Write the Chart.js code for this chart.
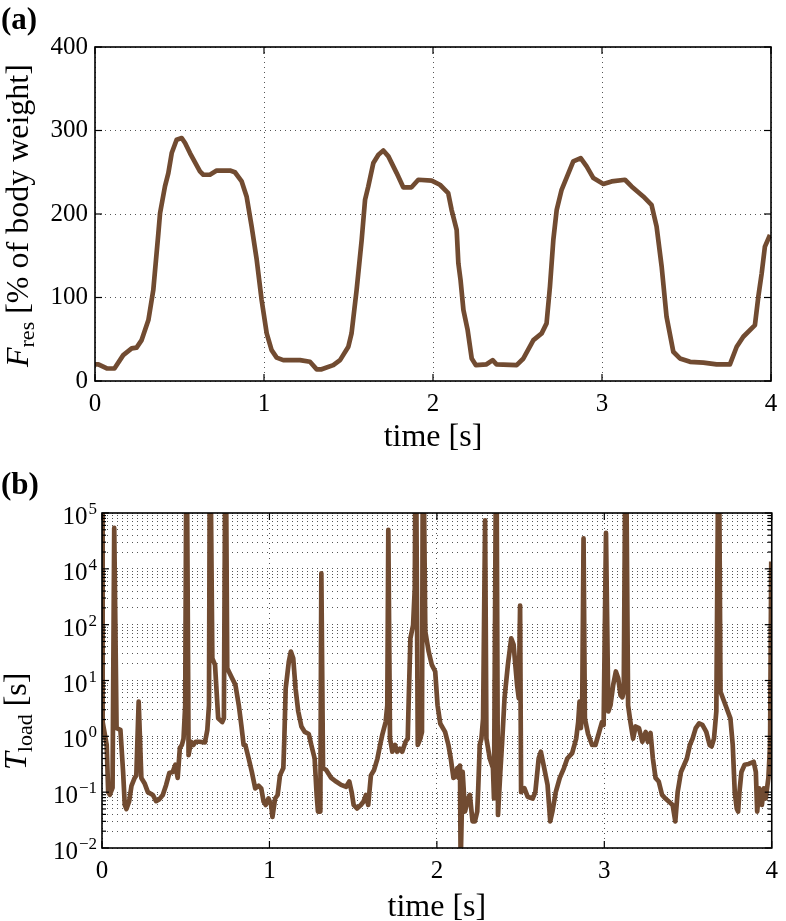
<!DOCTYPE html>
<html>
<head>
<meta charset="utf-8">
<script src="https://cdn.jsdelivr.net/npm/chart.js@4.4.1/dist/chart.umd.min.js"></script>
<style>
  body { margin: 0; background: #fff; }
  .box { position: absolute; left: 0; width: 786px; }
  #boxA { top: 0; height: 460px; }
  #boxB { top: 460px; height: 461px; }
</style>
</head>
<body>
<div class="box" id="boxA"><canvas id="chartA" width="786" height="460"></canvas></div>
<div class="box" id="boxB"><canvas id="chartB" width="786" height="461"></canvas></div>
<script>
// (a) resultant force, % of body weight
const timeA = [
  0, 0.02, 0.07, 0.115, 0.167, 0.217, 0.246, 0.276, 0.316, 0.345,
  0.375, 0.385, 0.414, 0.434, 0.454, 0.483, 0.513, 0.533, 0.562, 0.621,
  0.641, 0.68, 0.72, 0.799, 0.828, 0.868, 0.897, 0.927, 0.957, 0.986,
  1.016, 1.045, 1.075, 1.114, 1.213, 1.272, 1.312, 1.341, 1.41, 1.45,
  1.499, 1.518, 1.548, 1.578, 1.598, 1.617, 1.647, 1.677, 1.706, 1.736,
  1.785, 1.824, 1.873, 1.913, 1.992, 2.041, 2.09, 2.11, 2.14, 2.15,
  2.163, 2.18, 2.205, 2.229, 2.254, 2.317, 2.353, 2.376, 2.495, 2.535,
  2.594, 2.643, 2.672, 2.692, 2.712, 2.732, 2.761, 2.83, 2.874, 2.909,
  2.949, 3.008, 3.057, 3.136, 3.175, 3.244, 3.293, 3.323, 3.353, 3.382,
  3.422, 3.461, 3.521, 3.6, 3.678, 3.757, 3.797, 3.836, 3.905, 3.925,
  3.945, 3.964, 3.994
];
const forceA = [
  20, 20, 15, 15, 31, 39, 40, 49, 73, 109,
  177, 201, 233, 249, 273, 289, 291, 285, 273, 251,
  247, 247, 252, 252, 250, 239, 221, 185, 145, 97,
  57, 37, 28, 25, 25, 23, 14, 14, 19, 25,
  41, 57, 109, 169, 217, 233, 261, 271, 276, 269,
  249, 232, 232, 241, 240, 235, 225, 205, 181, 141,
  121, 85, 61, 27, 19, 20, 25, 20, 19, 27,
  49, 57, 69, 113, 169, 205, 229, 263, 267, 257,
  243, 236, 239, 241, 233, 221, 211, 185, 137, 77,
  35, 27, 23, 22, 20, 20, 41, 53, 67, 101,
  129, 161, 175
];
const xTicks = [0, 1, 2, 3, 4];
const yTicksA = [0, 100, 200, 300, 400];

// (b) T_load, log axis (values above 1e4 run off the top)
const timeB = [
  0, 0.004, 0.028, 0.037, 0.047, 0.063, 0.073, 0.087, 0.110, 0.126,
  0.136, 0.146, 0.162, 0.176, 0.195, 0.205, 0.219, 0.235, 0.254, 0.274,
  0.304, 0.323, 0.343, 0.363, 0.383, 0.402, 0.422, 0.438, 0.452, 0.465,
  0.477, 0.487, 0.497, 0.505, 0.517, 0.531, 0.546, 0.560, 0.580, 0.615,
  0.629, 0.639, 0.645, 0.659, 0.675, 0.694, 0.718, 0.728, 0.738, 0.748,
  0.777, 0.797, 0.817, 0.832, 0.846, 0.856, 0.876, 0.895, 0.915, 0.935,
  0.951, 0.965, 0.978, 0.994, 1.010, 1.018, 1.034, 1.049, 1.063, 1.083,
  1.089, 1.097, 1.116, 1.128, 1.142, 1.156, 1.172, 1.191, 1.211, 1.235,
  1.250, 1.270, 1.282, 1.290, 1.304, 1.310, 1.320, 1.339, 1.369, 1.398,
  1.428, 1.458, 1.477, 1.491, 1.503, 1.523, 1.546, 1.562, 1.576, 1.590,
  1.606, 1.625, 1.645, 1.661, 1.675, 1.694, 1.704, 1.710, 1.720, 1.734,
  1.750, 1.763, 1.779, 1.793, 1.813, 1.826, 1.832, 1.842, 1.858, 1.868,
  1.874, 1.886, 1.901, 1.911, 1.917, 1.931, 1.951, 1.970, 1.990, 2.004,
  2.020, 2.049, 2.069, 2.083, 2.099, 2.108, 2.122, 2.130, 2.138, 2.142,
  2.154, 2.168, 2.187, 2.197, 2.213, 2.227, 2.241, 2.247, 2.256, 2.266,
  2.276, 2.288, 2.296, 2.316, 2.335, 2.341, 2.355, 2.365, 2.379, 2.391,
  2.404, 2.424, 2.444, 2.458, 2.479, 2.489, 2.497, 2.503, 2.523, 2.542,
  2.572, 2.588, 2.608, 2.621, 2.641, 2.661, 2.677, 2.690, 2.710, 2.734,
  2.759, 2.779, 2.808, 2.832, 2.844, 2.852, 2.860, 2.868, 2.876, 2.884,
  2.903, 2.927, 2.947, 2.966, 2.986, 2.996, 3.010, 3.024, 3.037, 3.053,
  3.069, 3.083, 3.097, 3.108, 3.116, 3.128, 3.142, 3.156, 3.172, 3.187,
  3.207, 3.227, 3.247, 3.260, 3.276, 3.290, 3.306, 3.325, 3.345, 3.365,
  3.385, 3.408, 3.424, 3.438, 3.458, 3.477, 3.493, 3.511, 3.527, 3.546,
  3.566, 3.586, 3.609, 3.629, 3.641, 3.655, 3.669, 3.683, 3.694, 3.724,
  3.753, 3.767, 3.779, 3.791, 3.799, 3.807, 3.819, 3.838, 3.862, 3.892,
  3.905, 3.913, 3.925, 3.941, 3.953, 3.964, 3.980, 3.990, 3.997
];
const tLoad = [
  1e6, 1.8, 0.7, 0.1, 0.09, 0.12, 5400, 1.4, 1.3, 0.23,
  0.059, 0.05, 0.068, 0.13, 0.18, 0.2, 4.2, 0.18, 0.145, 0.10,
  0.089, 0.069, 0.075, 0.089, 0.135, 0.22, 0.23, 0.31, 0.18, 0.62,
  0.7, 0.91, 3.6, 1e6, 0.46, 0.8, 0.7, 0.8, 0.8, 0.78,
  1.3, 3.6, 1e6, 25, 19, 2.1, 1.8, 2.1, 1e6, 16.6,
  11, 8.3, 3.6, 1.6, 0.7, 0.7, 0.4, 0.23, 0.117, 0.13,
  0.117, 0.068, 0.059, 0.077, 0.059, 0.036, 0.077, 0.089, 0.2, 0.27,
  0.91, 7.2, 22, 33, 25, 7.2, 2.8, 1.5, 1.2, 1.1,
  0.7, 0.4, 0.089, 0.045, 0.045, 830, 0.27, 0.25, 0.18, 0.155,
  0.135, 0.125, 0.155, 0.1, 0.059, 0.051, 0.059, 0.068, 0.089, 0.059,
  0.2, 0.25, 0.4, 0.7, 1.1, 1.8, 3.6, 5000, 0.91, 0.53,
  0.7, 0.53, 0.6, 0.53, 0.8, 0.91, 4.8, 57, 98, 450,
  1e6, 0.7, 0.91, 1.2, 1e6, 75, 33, 19, 14.5, 3.6,
  1.7, 1.2, 0.7, 0.4, 0.18, 0.19, 0.27, 0.18, 0.3, 0.005,
  0.23, 0.045, 0.077, 0.089, 0.03, 0.03, 0.045, 0.117, 0.7, 0.91,
  2.1, 7400, 0.91, 0.4, 0.27, 0.077, 1e6, 0.039, 0.23, 0.91,
  4.8, 19, 57, 44, 8.3, 4.8, 220, 0.1, 0.117, 0.083,
  0.077, 0.1, 0.4, 0.53, 0.27, 0.135, 0.03, 0.045, 0.1, 0.18,
  0.27, 0.4, 0.5, 0.91, 1.8, 4.2, 1.4, 3.6, 3500, 2.1,
  1.1, 0.7, 0.7, 1.1, 1.8, 1.6, 4400, 2.8, 3.6, 8.3,
  14.5, 11, 5.4, 5.0, 6.3, 1e6, 3.6, 1.8, 0.91, 1.5,
  1.4, 0.8, 1.2, 0.8, 1.15, 0.4, 0.18, 0.155, 0.089, 0.077,
  0.068, 0.059, 0.03, 0.1, 0.23, 0.31, 0.4, 0.7, 0.91, 1.4,
  1.7, 1.6, 1.2, 0.7, 0.66, 0.91, 2.8, 1e6, 6.3, 3.6,
  2.1, 0.7, 0.1, 0.051, 0.045, 0.1, 0.23, 0.31, 0.32, 0.35,
  0.23, 0.045, 0.117, 0.059, 0.117, 0.077, 0.18, 0.7, 1350
];
// the printed decade labels of panel (b), bottom to top
const yTicksB = [0.01, 0.1, 1, 10, 100, 1000, 10000];
const yExpB = ['\u22122', '\u22121', '0', '1', '2', '4', '5'];

const lineColor = '#714b31';
const gridColor = '#555';
const serif = '"Liberation Serif", "Times New Roman", serif';

function pts(xs, ys) {
  const out = [];
  for (let i = 0; i < Math.min(xs.length, ys.length); i++) out.push({x: xs[i], y: ys[i]});
  return out;
}

function seg(ctx, x1, y1, x2, y2) {
  ctx.beginPath();
  ctx.moveTo(x1, y1);
  ctx.lineTo(x2, y2);
  ctx.stroke();
}

// draws a rotated axis title: main letter italic, subscript, rest roman
function yTitle(ctx, x, y, big, sub, rest, size) {
  ctx.save();
  ctx.translate(x, y);
  ctx.rotate(-Math.PI / 2);
  ctx.fillStyle = '#000';
  ctx.textAlign = 'left';
  ctx.textBaseline = 'alphabetic';
  ctx.font = 'italic ' + size + 'px ' + serif;
  ctx.fillText(big, 0, 0);
  let w = ctx.measureText(big).width;
  ctx.font = Math.round(size * 0.68) + 'px ' + serif;
  ctx.fillText(sub, w, size * 0.18);
  w += ctx.measureText(sub).width;
  ctx.font = size + 'px ' + serif;
  ctx.fillText(rest, w, 0);
  ctx.restore();
}

const frameA = {
  id: 'frameA',
  afterDraw(chart) {
    const {ctx, chartArea: a, scales} = chart;
    ctx.save();
    ctx.strokeStyle = '#000';
    ctx.lineWidth = 1.2;
    xTicks.forEach(v => {
      const x = scales.x.getPixelForValue(v);
      seg(ctx, x, a.bottom, x, a.bottom - 7);
      seg(ctx, x, a.top, x, a.top + 7);
    });
    yTicksA.forEach(v => {
      const y = scales.y.getPixelForValue(v);
      seg(ctx, a.left, y, a.left + 7, y);
      seg(ctx, a.right, y, a.right - 7, y);
    });
    ctx.lineWidth = 1.6;
    ctx.strokeRect(a.left, a.top, a.right - a.left, a.bottom - a.top);
    ctx.fillStyle = '#000';
    ctx.font = 'bold 31px ' + serif;
    ctx.fillText('(a)', 1, 29);
    ctx.restore();
    yTitle(ctx, 28, 367, 'F', 'res', ' [% of body weight]', 32);
  }
};

const frameB = {
  id: 'frameB',
  afterDraw(chart) {
    const {ctx, chartArea: a, scales} = chart;
    ctx.save();
    ctx.strokeStyle = '#000';
    ctx.lineWidth = 1.2;
    xTicks.forEach(v => {
      const x = scales.x.getPixelForValue(v);
      seg(ctx, x, a.bottom, x, a.bottom - 7);
      seg(ctx, x, a.top, x, a.top + 7);
    });
    scales.y.ticks.forEach(t => {
      const y = scales.y.getPixelForValue(t.value);
      const len = yTicksB.includes(t.value) ? 7 : 4;
      seg(ctx, a.left, y, a.left + len, y);
      seg(ctx, a.right, y, a.right - len, y);
    });
    ctx.lineWidth = 1.6;
    ctx.strokeRect(a.left, a.top, a.right - a.left, a.bottom - a.top);
    ctx.fillStyle = '#000';
    ctx.textAlign = 'right';
    ctx.textBaseline = 'alphabetic';
    yTicksB.forEach((v, i) => {
      const y = scales.y.getPixelForValue(v);
      ctx.font = '17px ' + serif;
      const ew = ctx.measureText(yExpB[i]).width;
      ctx.fillText(yExpB[i], a.left - 5, y + 1);
      ctx.font = '25px ' + serif;
      ctx.fillText('10', a.left - 6 - ew, y + 11);
    });
    ctx.textAlign = 'left';
    ctx.font = 'bold 31px ' + serif;
    ctx.fillText('(b)', 1, 34);
    ctx.restore();
    yTitle(ctx, 26, 310, 'T', 'load', ' [s]', 32);
  }
};

function xScale(h, padBottom) {
  return {
    type: 'linear', min: 0, max: 4,
    afterBuildTicks: s => { s.ticks = xTicks.map(v => ({value: v})); },
    afterFit: s => { s.height = h; },
    grid: { color: gridColor, lineWidth: 1, drawTicks: false },
    border: { display: false, dash: [1, 4] },
    ticks: { color: '#000', font: { family: serif, size: 25 }, padding: 8, maxRotation: 0 },
    title: { display: true, text: 'time [s]', color: '#000', font: { family: serif, size: 32 }, padding: { top: 0, bottom: padBottom } }
  };
}

Chart.defaults.font.family = serif;

new Chart(document.getElementById('chartA'), {
  type: 'line',
  data: {
    datasets: [{
      data: pts(timeA, forceA),
      borderColor: lineColor, borderWidth: 4.7, pointRadius: 0,
      borderJoinStyle: 'round', tension: 0, fill: false
    }]
  },
  options: {
    responsive: false, animation: false, events: [],
    layout: { padding: { left: 0, right: 15, top: 47, bottom: 0 } },
    plugins: { legend: { display: false }, tooltip: { enabled: false } },
    scales: {
      x: xScale(79, 3),
      y: {
        type: 'linear', min: 0, max: 400,
        afterBuildTicks: s => { s.ticks = yTicksA.map(v => ({value: v})); },
        afterFit: s => { s.width = 95; },
        grid: { color: gridColor, lineWidth: 1, drawTicks: false },
        border: { display: false, dash: [1, 4] },
        ticks: { color: '#000', font: { family: serif, size: 25 }, padding: 7 }
      }
    }
  },
  plugins: [frameA]
});

new Chart(document.getElementById('chartB'), {
  type: 'line',
  data: {
    datasets: [{
      data: pts(timeB, tLoad),
      borderColor: lineColor, borderWidth: 4.7, pointRadius: 0,
      borderJoinStyle: 'round', tension: 0, fill: false, clip: 0
    }]
  },
  options: {
    responsive: false, animation: false, events: [],
    layout: { padding: { left: 0, right: 8, top: 53, bottom: 0 } },
    plugins: { legend: { display: false }, tooltip: { enabled: false } },
    scales: {
      x: xScale(73, -6),
      y: {
        type: 'logarithmic', min: 0.01, max: 10000,
        afterBuildTicks: s => {
          const ticks = [];
          for (let d = -2; d < 4; d++) {
            for (let m = 1; m < 10; m++) ticks.push({value: +(m * Math.pow(10, d)).toPrecision(3)});
          }
          ticks.push({value: 10000});
          s.ticks = ticks;
        },
        afterFit: s => { s.width = 102; },
        grid: { color: gridColor, lineWidth: 1, drawTicks: false },
        border: { display: false, dash: [1, 4] },
        ticks: { display: false }
      }
    }
  },
  plugins: [frameB]
});
</script>
</body>
</html>
